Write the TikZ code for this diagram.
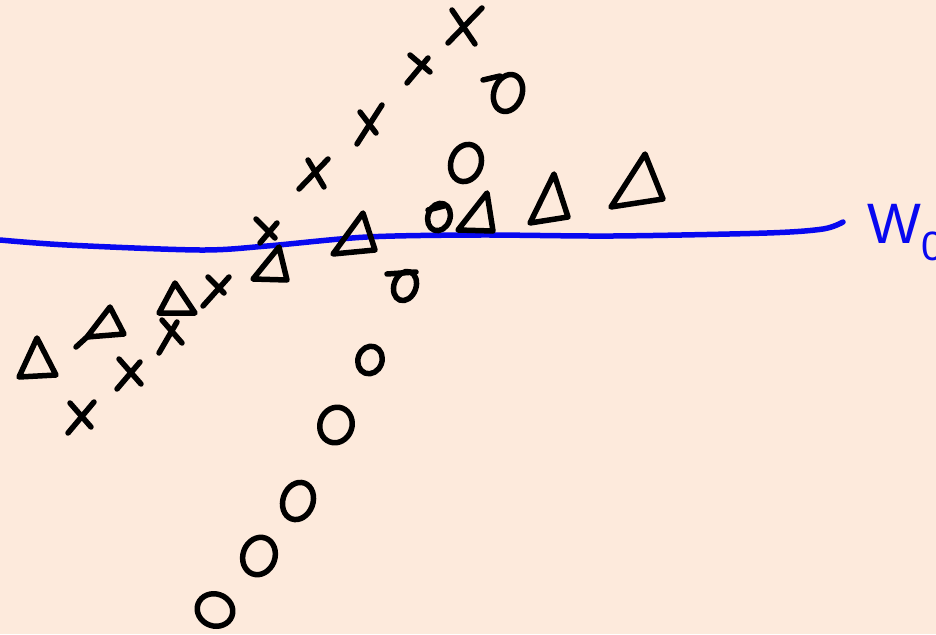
\documentclass[tikz,border=0pt]{standalone}
\usepackage{fontspec}
\usepackage{tikz}
\newfontfamily\handfont{Liberation Sans}
\definecolor{paper}{RGB}{253,234,220}
\definecolor{penblue}{RGB}{8,8,240}

\begin{document}
\begin{tikzpicture}[x=1pt,y=-1pt,
    ink/.style={black, line width=5.5pt, line cap=round, line join=round}]
    % --- Paper ---
    \fill[paper] (0,0) rectangle (936,634);
    \useasboundingbox (0,0) rectangle (936,634);

    % --- Separating line W0 ---
    \draw[penblue, line width=5.5pt, line cap=round]
        plot[smooth] coordinates {(0,240) (67,245) (200,250) (267,246) (367,237)
            (480,235) (613,236) (767,233) (823,229) (843,222)};
    \node[penblue, font=\handfont\fontsize{57}{57}\selectfont, anchor=base west, inner sep=0pt]
        (wzero) at (867,243) {W\raisebox{-17pt}{\fontsize{41}{41}\selectfont 0}};

    % Crosses (two strokes each)
    \foreach \ax/\ay/\bx/\by/\cx/\cy/\dx/\dy in {
        482/8/448/43/452/10/475/44,
        428/58/407/83/410/55/430/72,
        382/105/357/144/360/112/376/133,
        328/159/299/189/308/160/324/187,
        277/223/260/243/256/219/275/238,
        229/277/203/306/208/277/224/293,
        177/322/159/353/162/320/182/343,
        140/362/117/389/119/359/141/384,
        94/402/68/433/70/403/91/427}{
        \draw[ink] (\ax,\ay) -- (\bx,\by);
        \draw[ink] (\cx,\cy) -- (\dx,\dy);
    }

    % Triangles (left, apex, right)
    \foreach \lx/\ly/\tx/\ty/\rx/\ry in {
        19/377/37/338/56/375,
        87/337/110/307/124/334,
        159/313/175/283/195/313,
        253/279/279/247/287/280,
        333/254/363/213/375/250,
        458/230/487/193/493/231,
        530/223/554/174/568/217,
        611/207/645/154/663/199}{
        \draw[ink] (\lx,\ly) -- (\tx,\ty) -- (\rx,\ry) -- cycle;
    }
    \draw[ink] (76,347) -- (87,337);

    % Circles
    \foreach \cx/\cy/\rx/\ry in {
        508/93/14/19, 466/163/15/19, 439/217/11/14, 405/286/11/15,
        370/360/12/14, 336/425/16/18, 298/501/15/19, 259/556/16/19,
        215/610/18/16}{
        \draw[ink] (\cx,\cy) circle [x radius=\rx, y radius=\ry, rotate=-20];
    }
    % pen flicks on a few circles
    \draw[ink] (483,80) -- (500,76);
    \draw[ink] (428,210) -- (444,206);
    \draw[ink] (387,274) -- (416,272);
\end{tikzpicture}
\end{document}
